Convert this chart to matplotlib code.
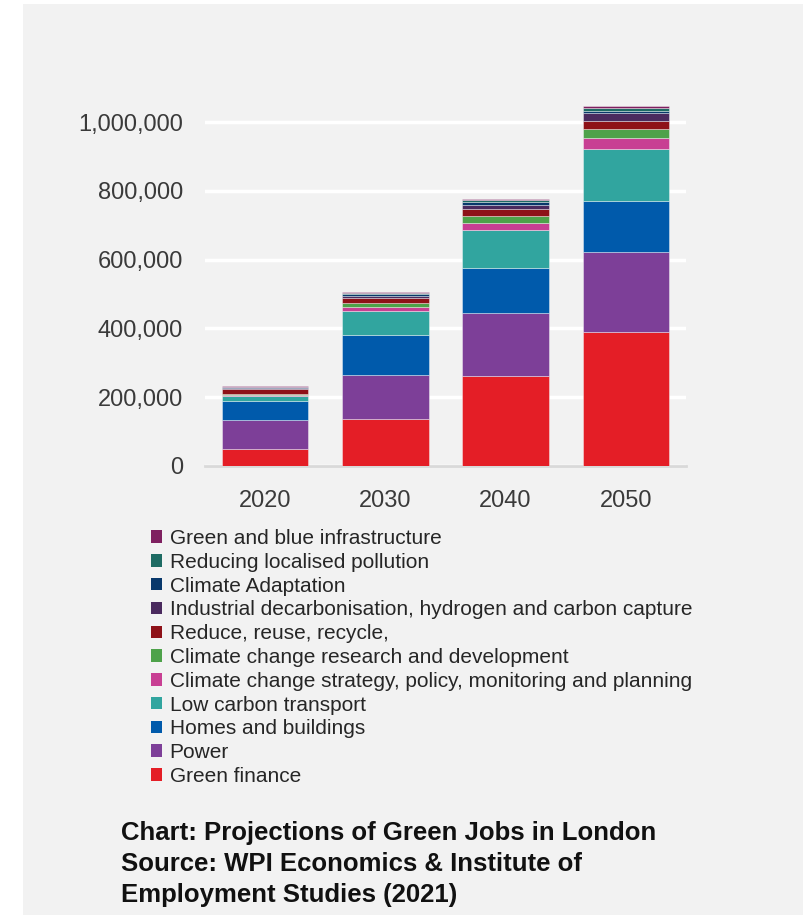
import matplotlib.pyplot as plt
import numpy as np
from matplotlib.patches import Rectangle, Patch
from matplotlib.ticker import FuncFormatter

years = ["2020", "2030", "2040", "2050"]

# stack order bottom -> top
categories = [
    "Green finance",
    "Power",
    "Homes and buildings",
    "Low carbon transport",
    "Climate change strategy, policy, monitoring and planning",
    "Climate change research and development",
    "Reduce, reuse, recycle,",
    "Industrial decarbonisation, hydrogen and carbon capture",
    "Climate Adaptation",
    "Reducing localised pollution",
    "Green and blue infrastructure",
]

green_finance = [49000, 136600, 261600, 389500]
power = [83400, 128000, 183000, 232600]
homes = [57000, 116000, 130800, 149100]
low_carbon = [13700, 70700, 110400, 149400]
strategy = [3000, 10700, 21300, 32000]
research = [2000, 11600, 19400, 28000]
reduce_reuse = [15000, 15500, 19400, 21300]
industrial = [4000, 5800, 12600, 23300]
adaptation = [2000, 5000, 9700, 7700]
pollution = [1500, 3000, 4000, 7000]
green_blue = [2500, 2000, 3800, 5800]

series = [green_finance, power, homes, low_carbon, strategy, research,
          reduce_reuse, industrial, adaptation, pollution, green_blue]

colors = ["#e41e26", "#7d3f98", "#005aab", "#31a59f", "#c83f93", "#4ea24a",
          "#8e1118", "#4a2a5e", "#08386b", "#1e6b63", "#7f2060"]

plt.rcParams["font.family"] = ["Liberation Sans", "DejaVu Sans"]

fig = plt.figure(figsize=(8.04, 9.15), dpi=100)
fig.patch.set_facecolor("white")
# grey panel behind the chart
fig.add_artist(Rectangle((23 / 804, 0), 781 / 804, 911 / 915,
                         transform=fig.transFigure, facecolor="#f2f2f2",
                         edgecolor="none", zorder=-10))

ax = fig.add_axes([205 / 804, (915 - 466) / 915, 481 / 804, 412.8 / 915])
ax.set_facecolor("none")

x = np.arange(len(years))
bottom = np.zeros(len(years))
for vals, col, name in zip(series, colors, categories):
    ax.bar(x, vals, width=0.72, bottom=bottom, color=col,
           edgecolor=(1, 1, 1, 0.45), linewidth=0.6, label=name, zorder=3)
    bottom += np.array(vals)

ax.set_xlim(-0.5, 3.5)
ax.set_ylim(0, 1.2e6)
ax.set_yticks([0, 200000, 400000, 600000, 800000, 1000000])
ax.yaxis.set_major_formatter(FuncFormatter(lambda v, p: f"{int(v):,}"))
ax.set_xticks(x)
ax.set_xticklabels(years)
ax.grid(axis="y", color="white", linewidth=2.5, zorder=0)
ax.set_axisbelow(True)
for s in ["top", "right", "left"]:
    ax.spines[s].set_visible(False)
ax.spines["bottom"].set_color("#d9d9d9")
ax.spines["bottom"].set_linewidth(2)
ax.tick_params(axis="both", length=0, labelsize=17, labelcolor="#3a3a3a")
ax.tick_params(axis="y", pad=16)
ax.tick_params(axis="x", pad=17)

handles = [Patch(facecolor=c, edgecolor="none") for c in colors][::-1]
labels = categories[::-1]
fig.legend(handles, labels, loc="upper left",
           bbox_to_anchor=(151 / 804, 1 - 529 / 915),
           frameon=False, fontsize=15, handlelength=0.55, handleheight=0.55,
           handletextpad=0.34, labelspacing=0.23, borderpad=0, borderaxespad=0,
           labelcolor="#262626")

caption = ("Chart: Projections of Green Jobs in London\n"
           "Source: WPI Economics & Institute of\n"
           "Employment Studies (2021)")
fig.text(121 / 804, 1 - 821 / 915, caption, ha="left", va="top",
         fontsize=18.5, fontweight="bold", color="#111111",
         linespacing=1.36)

fig.savefig("out.png", dpi=100, facecolor=fig.get_facecolor())
